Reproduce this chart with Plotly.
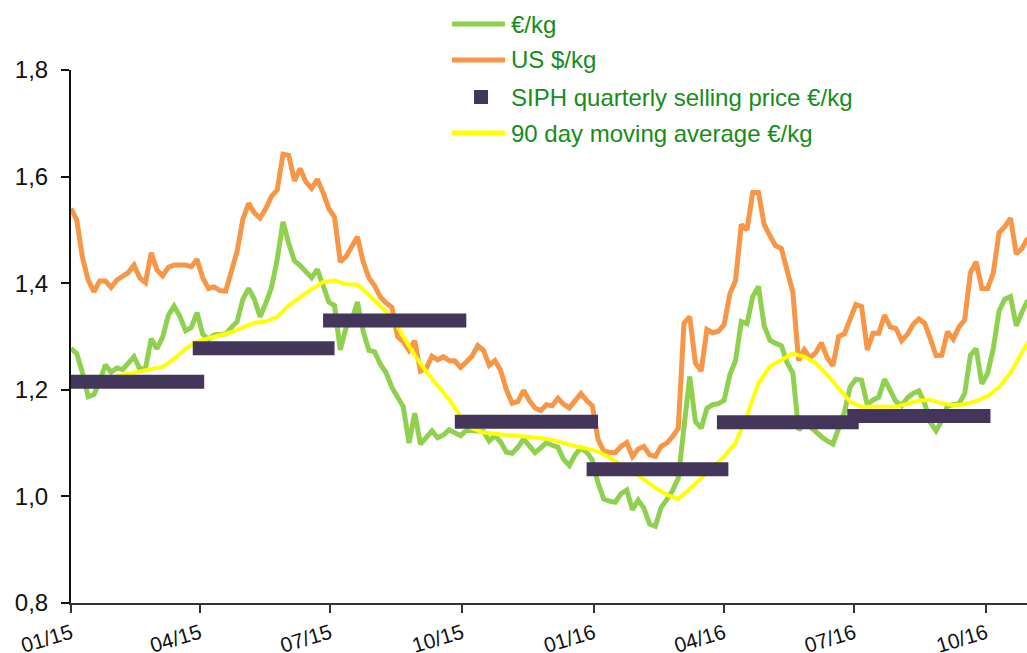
import pandas as pd
import plotly.graph_objects as go

# ---------------- data ----------------
# €/kg, sampled every 4 days from 2015-01-01
eur_kg = [
    1.278, 1.268, 1.232, 1.187, 1.191, 1.215, 1.247, 1.233, 1.241, 1.238,
    1.250, 1.262, 1.239, 1.240, 1.296, 1.277, 1.299, 1.340, 1.357, 1.338,
    1.311, 1.317, 1.345, 1.304, 1.295, 1.303, 1.304, 1.305, 1.317, 1.328,
    1.370, 1.390, 1.370, 1.337, 1.362, 1.392, 1.445, 1.515, 1.475, 1.442,
    1.433, 1.420, 1.410, 1.426, 1.395, 1.365, 1.358, 1.275, 1.316, 1.330,
    1.365, 1.310, 1.274, 1.271, 1.248, 1.232, 1.205, 1.184, 1.168, 1.100,
    1.156, 1.098, 1.110, 1.123, 1.110, 1.115, 1.125, 1.120, 1.114, 1.124,
    1.123, 1.122, 1.122, 1.104, 1.114, 1.102, 1.083, 1.081, 1.092, 1.108,
    1.094, 1.082, 1.091, 1.101, 1.096, 1.092, 1.069, 1.058, 1.078, 1.091,
    1.083, 1.068, 1.025, 0.995, 0.991, 0.989, 1.005, 1.012, 0.975, 0.993,
    0.978, 0.948, 0.944, 0.979, 0.994, 1.011, 1.034, 1.140, 1.225, 1.140,
    1.128, 1.165, 1.172, 1.174, 1.180, 1.228, 1.255, 1.328, 1.324, 1.375,
    1.394, 1.320, 1.293, 1.287, 1.283, 1.251, 1.232, 1.125, 1.134, 1.131,
    1.120, 1.112, 1.104, 1.098, 1.128, 1.158, 1.205, 1.220, 1.218, 1.172,
    1.181, 1.186, 1.220, 1.197, 1.178, 1.170, 1.185, 1.193, 1.198, 1.175,
    1.139, 1.123, 1.142, 1.170, 1.171, 1.174, 1.193, 1.265, 1.277, 1.211,
    1.231, 1.278, 1.348, 1.370, 1.375, 1.320, 1.346, 1.368,
]

# US $/kg, same 4-day sampling
usd_kg = [
    1.540, 1.519, 1.448, 1.406, 1.384, 1.404, 1.404, 1.392, 1.406, 1.413,
    1.420, 1.434, 1.410, 1.401, 1.457, 1.425, 1.414, 1.430, 1.434, 1.434,
    1.434, 1.431, 1.445, 1.410, 1.390, 1.393, 1.386, 1.385, 1.420, 1.460,
    1.520, 1.550, 1.532, 1.522, 1.540, 1.563, 1.575, 1.642, 1.640, 1.592,
    1.615, 1.590, 1.578, 1.595, 1.570, 1.540, 1.524, 1.440, 1.450, 1.471,
    1.487, 1.440, 1.410, 1.395, 1.374, 1.363, 1.355, 1.300, 1.290, 1.274,
    1.292, 1.235, 1.240, 1.263, 1.256, 1.262, 1.255, 1.254, 1.242, 1.252,
    1.263, 1.283, 1.274, 1.246, 1.255, 1.236, 1.200, 1.175, 1.178, 1.199,
    1.180, 1.166, 1.161, 1.172, 1.170, 1.184, 1.173, 1.166, 1.178, 1.193,
    1.180, 1.170, 1.107, 1.085, 1.083, 1.082, 1.094, 1.101, 1.075, 1.089,
    1.094, 1.078, 1.075, 1.094, 1.100, 1.112, 1.128, 1.325, 1.337, 1.250,
    1.235, 1.313, 1.307, 1.310, 1.322, 1.380, 1.405, 1.510, 1.500, 1.570,
    1.570, 1.510, 1.489, 1.470, 1.465, 1.420, 1.383, 1.255, 1.275, 1.260,
    1.270, 1.288, 1.260, 1.245, 1.300, 1.305, 1.335, 1.360, 1.356, 1.275,
    1.306, 1.306, 1.340, 1.318, 1.315, 1.292, 1.304, 1.323, 1.333, 1.325,
    1.296, 1.264, 1.265, 1.309, 1.295, 1.318, 1.331, 1.420, 1.440, 1.390,
    1.390, 1.420, 1.495, 1.506, 1.522, 1.455, 1.465, 1.485,
]

# 90 day moving average €/kg, sampled every 8 days from 2015-02-02
ma90 = [
    1.226, 1.230, 1.234, 1.239, 1.243, 1.258, 1.277, 1.291, 1.297, 1.302,
    1.308, 1.317, 1.326, 1.328, 1.337, 1.358, 1.374, 1.389, 1.402, 1.405,
    1.398, 1.397, 1.378, 1.358, 1.337, 1.300, 1.265, 1.234, 1.207, 1.182,
    1.150, 1.128, 1.120, 1.117, 1.115, 1.114, 1.112, 1.109, 1.106, 1.100,
    1.094, 1.090, 1.084, 1.073, 1.061, 1.047, 1.032, 1.016, 1.003, 0.995,
    1.014, 1.035, 1.056, 1.075, 1.100, 1.152, 1.212, 1.244, 1.256, 1.268,
    1.262, 1.250, 1.228, 1.203, 1.178, 1.168, 1.168, 1.168, 1.168, 1.174,
    1.180, 1.181, 1.175, 1.171, 1.173, 1.179, 1.188, 1.205, 1.232, 1.270,
    1.305,
]

# SIPH quarterly selling price €/kg
quarter_starts = ["2015-01-01", "2015-04-01", "2015-07-01", "2015-10-01",
                  "2016-01-01", "2016-04-01", "2016-07-01"]
quarter_ends = ["2015-04-01", "2015-07-01", "2015-10-01", "2016-01-01",
                "2016-04-01", "2016-07-01", "2016-10-01"]
siph_price = [1.215, 1.278, 1.330, 1.140, 1.051, 1.139, 1.151]

tick_dates = ["2015-01-01", "2015-04-01", "2015-07-01", "2015-10-01",
              "2016-01-01", "2016-04-01", "2016-07-01", "2016-10-01"]
tick_labels = ["01/15", "04/15", "07/15", "10/15",
               "01/16", "04/16", "07/16", "10/16"]
y_ticks = [0.8, 1.0, 1.2, 1.4, 1.6, 1.8]

series_names = ["€/kg", "US $/kg", "SIPH quarterly selling price €/kg",
                "90 day moving average €/kg"]

# ---------------- styling ----------------
GREEN = "#8fd14f"
ORANGE = "#f79646"
YELLOW = "#ffff00"
PURPLE = "#43365a"
TEXT_GREEN = "#178c17"
FONT = "Arial, Liberation Sans, sans-serif"

W, H = 1027, 653
ML, MR, MT, MB = 71, 0, 70, 50
PW, PH = W - ML - MR, H - MT - MB


def px_x(p):  # pixel -> paper x
    return (p - ML) / PW


def px_y(p):  # pixel -> paper y
    return (H - MB - p) / PH


daily_x = pd.date_range("2015-01-01", periods=len(eur_kg), freq="4D")
ma_x = pd.date_range("2015-02-02", periods=len(ma90), freq="8D")

# quarter bars: one line segment per quarter (slight overhang like the original)
bar_x, bar_y = [], []
for s, e, v in zip(quarter_starts, quarter_ends, siph_price):
    bar_x += [pd.Timestamp(s) - pd.Timedelta(days=5),
              pd.Timestamp(e) + pd.Timedelta(days=3), None]
    bar_y += [v, v, None]

fig = go.Figure()
fig.add_trace(go.Scatter(x=daily_x, y=usd_kg, mode="lines", name=series_names[1],
                         line=dict(color=ORANGE, width=5), showlegend=False))
fig.add_trace(go.Scatter(x=daily_x, y=eur_kg, mode="lines", name=series_names[0],
                         line=dict(color=GREEN, width=5), showlegend=False))
fig.add_trace(go.Scatter(x=ma_x, y=ma90, mode="lines", name=series_names[3],
                         line=dict(color=YELLOW, width=4), showlegend=False))
fig.add_trace(go.Scatter(x=bar_x, y=bar_y, mode="lines", name=series_names[2],
                         line=dict(color=PURPLE, width=14), showlegend=False))

# ---- legend drawn by hand (a real plotly legend would push the margins) ----
legend_rows_px = [24, 60, 97, 133]
legend_style = [("line", GREEN, 5), ("line", ORANGE, 5),
                ("square", PURPLE, 14), ("line", YELLOW, 5)]
shapes, annotations = [], []
for name, ypx, (kind, color, size) in zip(series_names, legend_rows_px, legend_style):
    if kind == "line":
        shapes.append(dict(type="line", xref="paper", yref="paper",
                           x0=px_x(452), x1=px_x(505), y0=px_y(ypx), y1=px_y(ypx),
                           line=dict(color=color, width=size)))
    else:
        shapes.append(dict(type="rect", xref="paper", yref="paper",
                           x0=px_x(481 - size / 2), x1=px_x(481 + size / 2),
                           y0=px_y(ypx + size / 2), y1=px_y(ypx - size / 2),
                           line=dict(width=0), fillcolor=color))
    annotations.append(dict(text=name, xref="paper", yref="paper",
                            x=px_x(509), y=px_y(ypx), xanchor="left",
                            yanchor="middle", showarrow=False,
                            font=dict(size=24, color=TEXT_GREEN, family=FONT)))

fig.update_layout(
    width=W, height=H,
    margin=dict(l=ML, r=MR, t=MT, b=MB),
    paper_bgcolor="white", plot_bgcolor="white",
    font=dict(family=FONT, color="#111111"),
    separators=",.",
    showlegend=False,
    shapes=shapes, annotations=annotations,
    xaxis=dict(
        type="date", range=["2015-01-01", "2016-10-29 12:00"],
        tickvals=tick_dates, ticktext=tick_labels, tickangle=-17,
        tickfont=dict(size=21, color="#111111"),
        showgrid=False, zeroline=False, automargin=False,
        showline=True, linecolor="#333333", linewidth=2,
        ticks="outside", ticklen=8, tickwidth=2, tickcolor="#333333",
    ),
    yaxis=dict(
        range=[0.8, 1.8], tickvals=y_ticks, tickformat=".1f",
        tickfont=dict(size=24, color="#111111"),
        showgrid=False, zeroline=False, automargin=False,
        showline=True, linecolor="#111111", linewidth=2,
        ticks="outside", ticklen=8, tickwidth=2, tickcolor="#111111",
        ticklabelstandoff=8,
    ),
)

# remove the default page margin so the figure fills the window exactly
fig.write_html("out.html",
               config={"displayModeBar": False},
               post_script="document.body.style.margin='0';"
                           "document.body.style.overflow='hidden';")
